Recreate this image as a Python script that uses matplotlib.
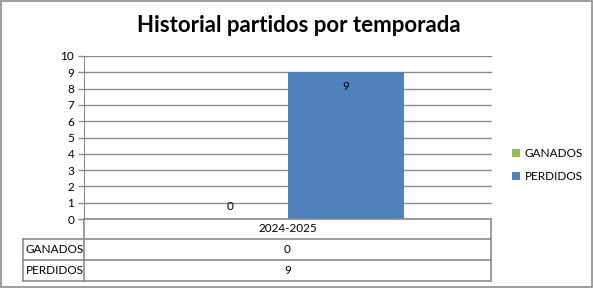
import matplotlib
matplotlib.use("Agg")
import matplotlib.pyplot as plt
from matplotlib.patches import Rectangle

seasons = ["2024-2025"]
series = ["GANADOS", "PERDIDOS"]
ganados = [0]
perdidos = [9]
colors = ["#9BBB59", "#4F81BD"]
grid_gray = "#8C8C8C"

plt.rcParams["font.family"] = ["Lato", "DejaVu Sans"]

W, H = 593, 288
fig = plt.figure(figsize=(W / 100, H / 100), dpi=100)

# plot area in pixels: x 84..492, y 56..219
ax = fig.add_axes([84 / W, 1 - 219 / H, (492 - 84) / W, (219 - 56) / H])

bar_w = 0.284
values = [ganados, perdidos]
for i, (name, vals) in enumerate(zip(series, values)):
    xs = [k + (i - 0.5) * bar_w for k in range(len(seasons))]
    bars = ax.bar(xs, vals, width=bar_w, color=colors[i], label=name, zorder=3)
    for b, v in zip(bars, vals):
        off = -14 if v > 0 else 13
        ax.annotate(str(v), (b.get_x() + b.get_width() / 2, v),
                    xytext=(0, off), textcoords="offset pixels",
                    ha="center", va="center", fontsize=8.5, color="black", zorder=4)

ax.set_xlim(-0.5, len(seasons) - 0.5)
ax.set_ylim(0, 10)
ax.set_yticks(range(0, 11))
ax.yaxis.grid(True, color=grid_gray, linewidth=1.0, zorder=0)
ax.set_axisbelow(True)
ax.set_xticks([])
for s in ["top", "right", "bottom"]:
    ax.spines[s].set_visible(False)
ax.spines["left"].set_color(grid_gray)
ax.tick_params(axis="y", colors=grid_gray, labelcolor="black", labelsize=8.5,
               length=4, width=1, pad=3)

# data table under the chart, drawn in its own axes (pixel units)
tx0, tx1, tdiv = 23, 491, 84
row_edges = [219, 239, 260, 281]
tax = fig.add_axes([tx0 / W, 1 - row_edges[-1] / H, (tx1 - tx0) / W,
                    (row_edges[-1] - row_edges[0]) / H])
tax.set_xlim(tx0, tx1)
tax.set_ylim(row_edges[-1], row_edges[0])
tax.axis("off")
lk = dict(color=grid_gray, linewidth=1.2, clip_on=False)
tax.plot([tdiv, tx1], [row_edges[0]] * 2, **lk)
for y in row_edges[1:]:
    tax.plot([tx0, tx1], [y, y], **lk)
tax.plot([tdiv, tdiv], [row_edges[0], row_edges[-1]], **lk)
tax.plot([tx1, tx1], [row_edges[0], row_edges[-1]], **lk)
tax.plot([tx0, tx0], [row_edges[1], row_edges[-1]], **lk)

mid_x = (tdiv + tx1) / 2
centers = [(row_edges[k] + row_edges[k + 1]) / 2 for k in range(3)]
tax.text(mid_x, centers[0], seasons[0], ha="center", va="center", fontsize=8.5)
for k, (name, vals) in enumerate(zip(series, values)):
    tax.text(tx0 + 3, centers[k + 1], name, ha="left", va="center", fontsize=8.5)
    tax.text(mid_x, centers[k + 1], str(vals[0]), ha="center", va="center", fontsize=8.5)

fig.legend(loc="center left", bbox_to_anchor=(501 / W, 1 - 165 / H), frameon=False,
           fontsize=8.5, handlelength=0.7, handleheight=0.7, handletextpad=0.4,
           labelspacing=1.0)

fig.text(299 / W, 1 - 25 / H, "Historial partidos por temporada",
         ha="center", va="center", fontsize=16, fontweight="bold")

fig.patches.append(Rectangle((0.8 / W, 0.8 / H), 1 - 1.6 / W, 1 - 1.6 / H,
                             transform=fig.transFigure, fill=False,
                             edgecolor=grid_gray, linewidth=1.2))

fig.savefig("out.png", dpi=100)
